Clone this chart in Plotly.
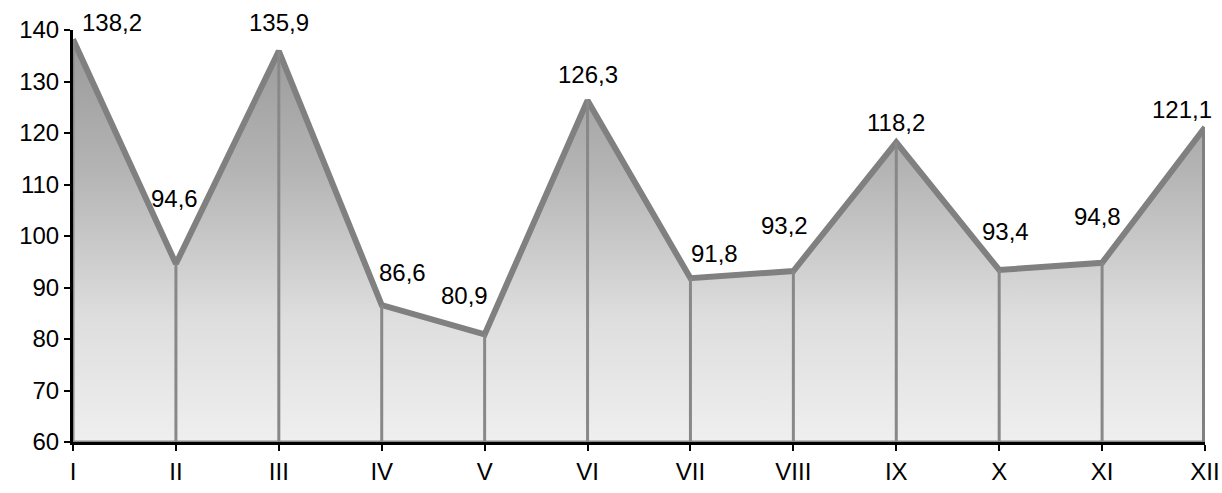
import plotly.graph_objects as go

months = ["I", "II", "III", "IV", "V", "VI", "VII", "VIII", "IX", "X", "XI", "XII"]
values = [138.2, 94.6, 135.9, 86.6, 80.9, 126.3, 91.8, 93.2, 118.2, 93.4, 94.8, 121.1]
value_labels = ["138,2", "94,6", "135,9", "86,6", "80,9", "126,3", "91,8", "93,2", "118,2", "93,4", "94,8", "121,1"]
y_ticks = [60, 70, 80, 90, 100, 110, 120, 130, 140]

BASE = 60
# label offsets in pixels (dx, dy) relative to each point
label_offsets = [(39, 17), (-1, 65), (0, 29), (21, 33), (-20, 39), (0, 26),
                 (24, 25), (-9, 46), (0, 20), (6, 38), (-5, 46), (-23, 18)]

FONT = "Liberation Sans, Arial, sans-serif"

fig = go.Figure()

# baseline for the area fill
fig.add_trace(go.Scatter(
    x=months, y=[BASE] * len(months), mode="lines",
    line=dict(color="#8a8a8a", width=3), hoverinfo="skip", showlegend=False,
))

fig.add_trace(go.Scatter(
    x=months, y=values, mode="lines", fill="tonexty",
    fillgradient=dict(
        type="vertical", start=BASE, stop=140,
        colorscale=[[0.0, "#efefef"], [0.3, "#dedede"], [0.66, "#b4b4b4"],
                    [0.9, "#a0a0a0"], [1.0, "#999999"]],
    ),
    line=dict(color="#808080", width=6), showlegend=False,
))

# drop lines from each point down to the base
dx, dy = [], []
for m, v in zip(months, values):
    dx += [m, m, None]
    dy += [BASE, v, None]
fig.add_trace(go.Scatter(
    x=dx, y=dy, mode="lines", line=dict(color="#888888", width=3),
    hoverinfo="skip", showlegend=False,
))

# right edge of the area is drawn thicker
fig.add_trace(go.Scatter(
    x=[months[-1], months[-1]], y=[BASE, values[-1]], mode="lines",
    line=dict(color="#808080", width=6), hoverinfo="skip", showlegend=False,
))

for m, v, lab, (ox, oy) in zip(months, values, value_labels, label_offsets):
    fig.add_annotation(
        x=m, y=v, text=lab, showarrow=False, xshift=ox, yshift=oy,
        font=dict(size=24, color="#000000", family=FONT),
    )

fig.update_layout(
    width=1222, height=493,
    margin=dict(l=73, r=17, t=30, b=51),
    paper_bgcolor="white", plot_bgcolor="white",
    font=dict(family=FONT, size=24, color="#000000"),
    xaxis=dict(
        type="category", range=[0, len(months) - 1], automargin=False,
        showgrid=False, zeroline=False,
        showline=True, linecolor="#000000", linewidth=3,
        ticks="outside", ticklen=6, tickwidth=2, tickcolor="#000000",
        tickfont=dict(size=24),
    ),
    yaxis=dict(
        range=[60, 140], tickvals=y_ticks, automargin=False,
        showgrid=False, zeroline=False,
        showline=True, linecolor="#000000", linewidth=3,
        ticks="outside", ticklen=6, tickwidth=2, tickcolor="#000000",
        tickfont=dict(size=24),
    ),
)

page_css = (
    "document.documentElement.style.overflow='hidden';"
    "document.body.style.overflow='hidden';"
    "document.body.style.margin='0';"
)
fig.write_html("out.html", config={"displayModeBar": False}, post_script=page_css)
